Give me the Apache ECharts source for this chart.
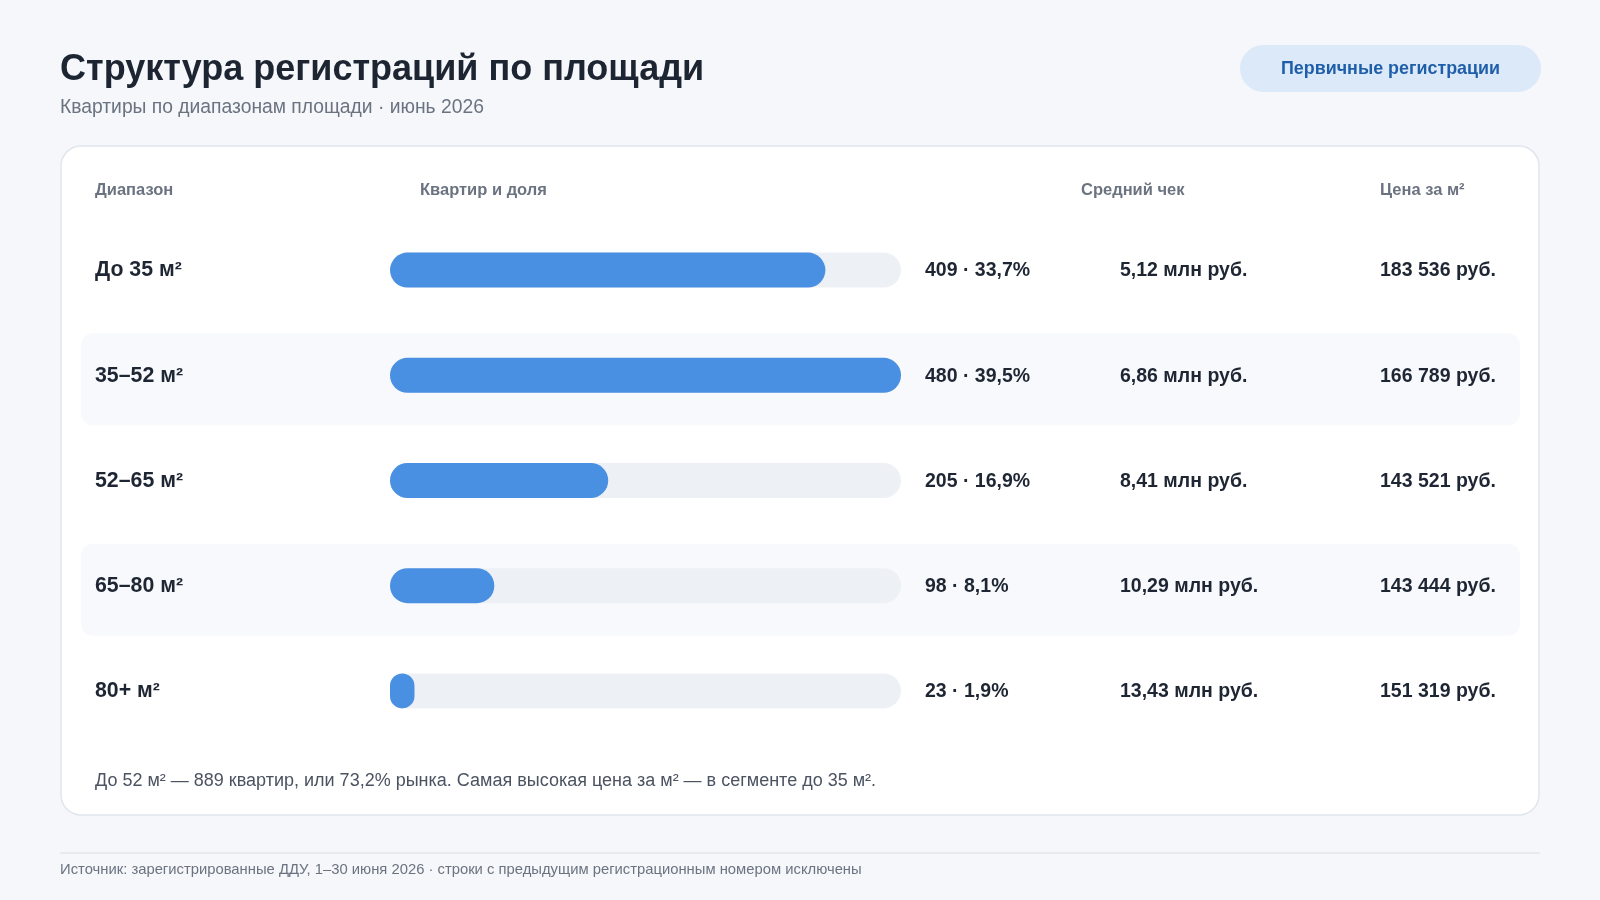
<!DOCTYPE html>
<html><head><meta charset="utf-8">
<script src="https://cdn.jsdelivr.net/npm/echarts@6/dist/echarts.min.js"></script>
<style>html,body{margin:0;padding:0;background:#f5f7fb;}#c{width:1600px;height:900px;}</style>
</head><body><div id="c"></div>
<script>
// ---- data ----
const categories = ['До 35 м²', '35–52 м²', '52–65 м²', '65–80 м²', '80+ м²'];
const counts = [409, 480, 205, 98, 23];
const shares = [33.7, 39.5, 16.9, 8.1, 1.9];
const avgCheckMln = [5.12, 6.86, 8.41, 10.29, 13.43];
const pricePerM2 = [183536, 166789, 143521, 143444, 151319];
const headers = ['Диапазон', 'Квартир и доля', 'Средний чек', 'Цена за м²'];
const titleText = 'Структура регистраций по площади';
const subtitleText = 'Квартиры по диапазонам площади · июнь 2026';
const badgeText = 'Первичные регистрации';
const noteText = 'До 52 м² — 889 квартир, или 73,2% рынка. Самая высокая цена за м² — в сегменте до 35 м².';
const sourceText = 'Источник: зарегистрированные ДДУ, 1–30 июня 2026 · строки с предыдущим регистрационным номером исключены';

// ---- formatting ----
const FONT = '"Liberation Sans", Arial, Helvetica, sans-serif';
const comma = (v, d) => v.toFixed(d).replace('.', ',');
const group = v => String(v).replace(/\B(?=(\d{3})+(?!\d))/g, ' ');
const fmtCount = i => counts[i] + ' · ' + comma(shares[i], 1) + '%';
const fmtCheck = i => comma(avgCheckMln[i], 2) + ' млн руб.';
const fmtPrice = i => group(pricePerM2[i]) + ' руб.';

// ---- layout ----
const card = { x: 61, y: 146, w: 1478, h: 669 };
const gridL = 390, gridW = 511, gridTop = 217.5, gridH = 526;
const stripeRows = categories.map((c, i) => i).filter(i => i % 2 === 1).map(i => [0, i]);

const dark = '#1f2633';
const gray = '#6b7380';

const chart = echarts.init(document.getElementById('c'), null, { renderer: 'canvas' });

function valueAxis(offset, fmt) {
  return {
    type: 'category', inverse: true, data: categories, position: 'right', offset: offset, z: 10,
    axisLine: { show: false }, axisTick: { show: false }, splitLine: { show: false },
    axisLabel: { interval: 0, hideOverlap: false, margin: 24, align: 'left', verticalAlign: 'top', padding: [-9, 0, 0, 0],
      fontSize: 19.5, fontWeight: 'bold', color: dark, fontFamily: FONT,
      formatter: (v) => fmt(categories.indexOf(v)) }
  };
}

chart.setOption({
  backgroundColor: '#f5f7fb',
  animation: false,
  textStyle: { fontFamily: FONT },
  grid: { left: gridL, width: gridW, top: gridTop, height: gridH, containLabel: false },
  xAxis: { type: 'value', min: 0, max: Math.max(...counts), show: false },
  yAxis: [
    {
      type: 'category', inverse: true, data: categories, position: 'left', z: 10,
      axisLine: { show: false }, axisTick: { show: false }, splitLine: { show: false },
      axisLabel: { interval: 0, hideOverlap: false, margin: gridL - 95, align: 'left', verticalAlign: 'top', padding: [-10, 0, 0, 0],
        fontSize: 21.3, fontWeight: 'bold', color: dark, fontFamily: FONT }
    },
    valueAxis(0, fmtCount),
    valueAxis(195, fmtCheck),
    valueAxis(455, fmtPrice)
  ],
  graphic: [
    { type: 'rect', z: -10, shape: { x: card.x, y: card.y, width: card.w, height: card.h, r: 20 },
      style: { fill: '#ffffff', stroke: '#e1e6ee', lineWidth: 1.5 } },
    { type: 'text', x: 60, y: 70.5, style: { text: titleText, font: 'bold 36px ' + FONT, fill: '#1e2532', verticalAlign: 'middle' } },
    { type: 'text', x: 60, y: 108, style: { text: subtitleText, font: '19.3px ' + FONT, fill: gray, verticalAlign: 'middle' } },
    { type: 'rect', shape: { x: 1240, y: 45, width: 301, height: 47, r: 23.5 }, style: { fill: '#dce9f9' } },
    { type: 'text', x: 1390.5, y: 69.5, style: { text: badgeText, font: 'bold 17.9px ' + FONT, fill: '#1f5fa9', align: 'center', verticalAlign: 'middle' } },
    { type: 'text', x: 95, y: 190.5, style: { text: headers[0], font: 'bold 16.5px ' + FONT, fill: gray, verticalAlign: 'middle' } },
    { type: 'text', x: 420, y: 190.5, style: { text: headers[1], font: 'bold 16.5px ' + FONT, fill: gray, verticalAlign: 'middle' } },
    { type: 'text', x: 1081, y: 190.5, style: { text: headers[2], font: 'bold 16.5px ' + FONT, fill: gray, verticalAlign: 'middle' } },
    { type: 'text', x: 1380, y: 190.5, style: { text: headers[3], font: 'bold 16.5px ' + FONT, fill: gray, verticalAlign: 'middle' } },
    { type: 'text', x: 95, y: 781.5, style: { text: noteText, font: '18px ' + FONT, fill: '#4b5361', verticalAlign: 'middle' } },
    { type: 'line', shape: { x1: 60, y1: 853, x2: 1540, y2: 853 }, style: { stroke: '#e2e6ed', lineWidth: 1.5 } },
    { type: 'text', x: 60, y: 870, style: { text: sourceText, font: '14.8px ' + FONT, fill: gray, verticalAlign: 'middle' } }
  ],
  series: [
    {
      type: 'custom', z: 1, silent: true, clip: false,
      data: stripeRows, encode: { x: 0, y: 1 },
      renderItem: (params, api) => {
        const y = api.coord([0, api.value(1)])[1];
        return { type: 'rect', shape: { x: card.x + 20, y: y - 42, width: card.w - 39, height: 92, r: 12 },
          style: { fill: '#f7f9fc' } };
      }
    },
    {
      type: 'bar', z: 3, data: counts, barWidth: 35,
      itemStyle: { color: '#4a90e2', borderRadius: 17.5 },
      showBackground: true,
      backgroundStyle: { color: '#edf1f6', borderRadius: 17.5 }
    }
  ]
});
</script></body></html>
